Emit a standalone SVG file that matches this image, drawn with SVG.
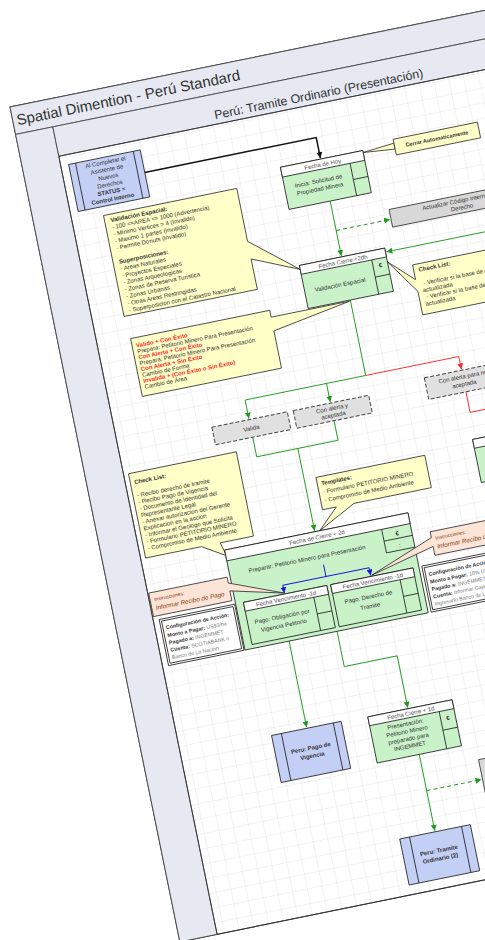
<svg xmlns="http://www.w3.org/2000/svg" width="485" height="940" viewBox="0 0 485 940">
<defs>
<pattern id="grid" x="0" y="0" width="15" height="15" patternUnits="userSpaceOnUse">
<path d="M15 0H0V15" fill="none" stroke="#d4d4d4" stroke-width="0.6"/>
</pattern>
<marker id="ag" viewBox="0 0 6 6" refX="6" refY="3" markerWidth="6" markerHeight="6" markerUnits="userSpaceOnUse" orient="auto"><path d="M0,0L6,3L0,6z" fill="#1f9a1f"/></marker>
<marker id="ar" viewBox="0 0 6 6" refX="6" refY="3" markerWidth="6" markerHeight="6" markerUnits="userSpaceOnUse" orient="auto"><path d="M0,0L6,3L0,6z" fill="#ff2a2a"/></marker>
<marker id="ab" viewBox="0 0 6 6" refX="6" refY="3" markerWidth="6" markerHeight="6" markerUnits="userSpaceOnUse" orient="auto"><path d="M0,0L6,3L0,6z" fill="#1a1ae0"/></marker>
<marker id="ak" viewBox="0 0 6 6" refX="6" refY="3" markerWidth="6" markerHeight="6" markerUnits="userSpaceOnUse" orient="auto"><path d="M0,0L6,3L0,6z" fill="#111"/></marker>
</defs>
<style>
text{font-family:"Liberation Sans",Arial,sans-serif;fill:#333;font-size:6px}
.b{font-weight:bold}
.c{text-anchor:middle}
.hdr{fill:#e6e9f1;stroke:#444;stroke-width:0.8}
.task{fill:#c9f2c9;stroke:#222;stroke-width:0.8}
.wh{fill:#fff;stroke:#222;stroke-width:0.8}
.ln{fill:none;stroke:#222;stroke-width:0.8}
.blue{fill:#c4cff5;stroke:#222;stroke-width:0.8}
.note{fill:#ffffc8;stroke:#333;stroke-width:0.8}
.peach{fill:#fce4d6;stroke:#333;stroke-width:0.8}
.dash{fill:#e0e0e0;stroke:#444;stroke-width:1;stroke-dasharray:4 2}
.gray{fill:#d8d8d8;stroke:#333;stroke-width:0.8}
.g{fill:none;stroke:#1f9a1f;stroke-width:0.9}
.gd{fill:none;stroke:#1f9a1f;stroke-width:1;stroke-dasharray:4 3}
.r{fill:none;stroke:#ff2a2a;stroke-width:0.9}
.bl{fill:none;stroke:#1a1ae0;stroke-width:1}
.k{fill:none;stroke:#111;stroke-width:1.5}
.red{fill:#ff2a2a;font-weight:bold}
.hd{fill:#555}
.br{fill:#8a3a10}
.lb{font-weight:bold;fill:#333}
.vl{fill:#777}
</style>
<g transform="translate(10,107) rotate(-11.5)">
<g id="page">
<rect x="0" y="0" width="520" height="852" fill="#fff" stroke="#333" stroke-width="1"/>
<rect class="hdr" x="0" y="0" width="520" height="28"/>
<text x="4" y="19.5" style="font-size:15px">Spatial Dimention - Perú Standard</text>
<rect class="hdr" x="0" y="28" width="38" height="824"/>
<rect class="hdr" x="38" y="28" width="482" height="30"/>
<text class="c" x="305" y="53" style="font-size:12.4px">Perú: Tramite Ordinario (Presentación)</text>
<rect x="38" y="58" width="482" height="794" fill="url(#grid)" stroke="#333" stroke-width="0.8"/>
</g>

<g id="connectors">
<path class="k" d="M119,91H294V112" marker-end="url(#ak)"/>
<path class="g" d="M295,156V212" marker-end="url(#ag)"/>
<path class="gd" d="M295,186H350" marker-end="url(#ag)"/>
<path class="g" d="M520,217H340" marker-end="url(#ag)"/>
<path class="g" d="M295,257V334H172V353" marker-end="url(#ag)"/>
<path class="g" d="M255,334V353" marker-end="url(#ag)"/>
<path class="r" d="M295,334H390V347" marker-end="url(#ar)"/>
<path class="r" d="M390,370V391H520"/>
<path class="g" d="M172,372V392H255V372"/>
<path class="g" d="M214,392V476" marker-end="url(#ag)"/>
<path class="g" d="M167,575V667" marker-end="url(#ag)"/>
<path class="g" d="M216,579V615H270V668" marker-end="url(#ag)"/>
<path class="g" d="M272,716V794" marker-end="url(#ag)"/>
<path class="gd" d="M272,753H328" marker-end="url(#ag)"/>
</g>

<g id="n-completar">
<rect class="blue" x="46" y="68" width="73" height="48"/>
<path class="ln" d="M53,68V116M112,68V116"/>
<text class="c" x="82.5" y="75">Al Completar el</text>
<text class="c" x="82.5" y="82.5">Asistente de</text>
<text class="c" x="82.5" y="90">Nuevos</text>
<text class="c" x="82.5" y="97.5">Derechos</text>
<text class="c b" x="82.5" y="105">STATUS =</text>
<text class="c b" x="82.5" y="112.5">Control Interno</text>
</g>

<g id="n-hoy">
<rect class="task" x="253" y="113" width="84" height="43"/>
<rect class="wh" x="253" y="113" width="84" height="10"/>
<path class="ln" d="M322,123V156M322,139.5H337"/>
<text class="c hd" x="295" y="120.5">Fecha de Hoy</text>
<text class="c" x="287.5" y="136">Inicia: Solicitud de</text>
<text class="c" x="287.5" y="144">Propiedad Minera</text>
</g>

<g id="n-cerrar">
<path class="note" d="M337,115L369,112V118Z"/>
<rect class="note" x="369" y="108" width="86" height="16"/>
<text class="c b" x="412" y="118" style="font-size:5.5px">Cerrar Automaticamente</text>
</g>

<g id="n-actualizar">
<rect class="gray" x="351" y="176" width="144" height="18"/>
<text class="c" x="423" y="183.5">Actualizar Código interno con</text>
<text class="c" x="423" y="190.5">Derecho</text>
</g>

<g id="n-validacion">
<rect class="task" x="252" y="213" width="87" height="44"/>
<rect class="wh" x="252" y="213" width="87" height="9"/>
<path class="ln" d="M324,222V257M324,239.5H339"/>
<text class="c hd" x="295.5" y="219.8">Fecha Cierre +2dh</text>
<text class="c b" x="331.5" y="231">€</text>
<text class="c" x="288" y="242">Validación Espacial</text>
</g>

<g id="n-note-validacion">
<path class="note" d="M70,125H206V179L252,217L206,197V228H70Z"/>
<text class="b" x="76" y="133">Validación Espacial:</text>
<text x="76" y="140.1">- 100 &lt;=AREA &lt;= 1000 (Advertencia)</text>
<text x="76" y="147.2">- Mínimo Vertices = 4 (Invalido)</text>
<text x="76" y="154.2">- Maximo 1 partes (Invalido)</text>
<text x="76" y="161.3">- Permite Donuts (Invalido)</text>
<text class="b" x="76" y="175.4">Superposiciones:</text>
<text x="76" y="182.5">- Areas Naturales</text>
<text x="76" y="189.6">- Proyectos Especiales</text>
<text x="76" y="196.6">- Zonas Arqueologicas</text>
<text x="76" y="203.7">- Zonas de Reserva Turistica</text>
<text x="76" y="210.8">- Zonas Urbanas</text>
<text x="76" y="217.9">- Otras Areas Restringidas</text>
<text x="76" y="225">- Superposicion con el Catastro Nacional</text>
</g>

<g id="n-checklist-right">
<path class="note" d="M363,235H520V286H363V262L339,227L363,250Z"/>
<text class="b" x="368" y="243">Check List:</text>
<text x="370" y="257">- Verificar si la base de Areas Restringidas esta</text>
<text x="368" y="264">actualizada</text>
<text x="370" y="271">- Verificar si la base de Catastro esta</text>
<text x="368" y="278">actualizada</text>
</g>

<g id="n-note-resultados">
<path class="note" d="M72,251H214V258L294,258L214,272V310H72Z"/>
<text class="red" x="76" y="261">Valido + Con Éxito</text>
<text x="76" y="267">Prepara: Petitorio Minero Para Presentación</text>
<text class="red" x="76" y="273">Con Alerta + Con Éxito</text>
<text x="76" y="279">Prepara: Petitorio Minero Para Presentación</text>
<text class="red" x="76" y="285">Con Alerta + Sin Éxito</text>
<text x="76" y="291">Cambio de Forma</text>
<text class="red" x="76" y="297">Invalida + (Con Éxito o Sin Éxito)</text>
<text x="76" y="303">Cambio de Área</text>
</g>

<g id="n-valida">
<rect class="dash" x="134" y="354" width="77" height="18"/>
<text class="c" x="172.5" y="365">Valida</text>
</g>
<g id="n-alerta-aceptada">
<rect class="dash" x="217" y="354" width="77" height="18"/>
<text class="c" x="255.5" y="361.5">Con alerta y</text>
<text class="c" x="255.5" y="368.5">aceptada</text>
</g>
<g id="n-alerta-no">
<rect class="dash" x="352" y="348" width="76" height="22"/>
<text class="c" x="390" y="356.5">Con alerta para no</text>
<text class="c" x="390" y="364">aceptada</text>
</g>
<g id="n-right-task">
<rect class="task" x="387" y="418" width="90" height="44"/>
<rect class="wh" x="387" y="418" width="90" height="9"/>
</g>

<g id="n-checklist-left">
<path class="note" d="M43,383H153V469H119L123,483L100,469H43Z"/>
<text class="b" x="47" y="394.5">Check List:</text>
<text x="47" y="408">- Recibo derecho de tramite</text>
<text x="47" y="414.7">- Recibo Pago de Vigencia</text>
<text x="47" y="421.5">- Documento de Identidad del</text>
<text x="47" y="428.2">Representante Legal</text>
<text x="47" y="435">- Anexar autorizacion del Gerente</text>
<text x="47" y="441.7">Explicacion en la accion</text>
<text x="47" y="448.5">- Informar el Geologo que Solicita</text>
<text x="47" y="455.2">- Formulario PETITORIO MINERO</text>
<text x="47" y="462">- Compromiso de Medio Ambiente</text>
</g>

<g id="n-templates">
<path class="note" d="M226,424H337V457H258L219,477L240,457H226Z"/>
<text class="b" x="230" y="433">Templates:</text>
<text x="230" y="441.5">- Formulario PETITORIO MINERO</text>
<text x="230" y="450">- Compromiso de Medio Ambiente</text>
</g>

<g id="n-preparar">
<rect class="task" x="122" y="477" width="187" height="102"/>
<rect class="wh" x="122" y="477" width="187" height="11"/>
<path class="ln" d="M280,488V512H309M280,500H309"/>
<text class="c hd" x="215" y="485">Fecha de Cierre + 2d</text>
<text class="c b" x="294.5" y="497">€</text>
<text class="c" x="294.5" y="509">:</text>
<text class="c" x="201" y="504">Preparar: Petitorio Minero para Presentación</text>
</g>

<g id="connectors-blue">
<path class="bl" d="M216,511V523"/>
<path class="bl" d="M172,523H260"/>
<path class="bl" d="M172,523V531" marker-end="url(#ab)"/>
<path class="bl" d="M260,523V531" marker-end="url(#ab)"/>
</g>

<g id="n-pago-vigencia-task">
<rect class="task" x="130" y="532" width="85" height="43"/>
<rect class="wh" x="130" y="532" width="85" height="9"/>
<path class="ln" d="M200,541V575M200,558H215"/>
<text class="c hd" x="172.5" y="538.8">Fecha Vencimiento -1d</text>
<text class="c" x="165" y="555.5">Pago: Obligación por</text>
<text class="c" x="165" y="564.5">Vigencia Petitorio</text>
</g>
<g id="n-pago-tramite-task">
<rect class="task" x="219" y="532" width="84" height="43"/>
<rect class="wh" x="219" y="532" width="84" height="9"/>
<path class="ln" d="M288,541V575M288,558H303"/>
<text class="c hd" x="261" y="538.8">Fecha Vencimiento -1d</text>
<text class="c" x="253.5" y="553.5">Pago: Derecho de</text>
<text class="c" x="253.5" y="563">Tramite</text>
</g>

<g id="n-instr-left">
<path class="peach" d="M39,504H119V510L172,531L119,518V528H39Z"/>
<text class="br" x="43" y="513" style="font-size:5px">Instrucciones:</text>
<text class="br" x="43" y="522" style="font-size:6.3px;font-style:italic">Informar Recibo de Pago</text>
</g>
<g id="n-instr-right">
<path class="peach" d="M327,500H420V524H327V515L261,531L327,506Z"/>
<text class="br" x="331" y="509" style="font-size:5px">Instrucciones:</text>
<text class="br" x="331" y="518" style="font-size:6.3px;font-style:italic">Informar Recibo de Pago</text>
</g>

<g id="n-config-left">
<rect class="wh" x="44" y="532" width="77" height="47"/>
<rect class="ln" x="46" y="534" width="73" height="43"/>
<text class="lb" x="49" y="543" style="font-size:5.3px">Configuración de Acción:</text>
<text x="49" y="551" style="font-size:5.3px"><tspan class="lb">Monto a Pagar: </tspan><tspan class="vl">US$3/ha</tspan></text>
<text x="49" y="558.5" style="font-size:5.3px"><tspan class="lb">Pagado a: </tspan><tspan class="vl">INGEMMET</tspan></text>
<text x="49" y="566" style="font-size:5.3px"><tspan class="lb">Cuenta: </tspan><tspan class="vl">SCOTIABANK o</tspan></text>
<text class="vl" x="49" y="573.5" style="font-size:5.3px">Banco de La Nación</text>
</g>
<g id="n-config-right">
<rect class="wh" x="312" y="532" width="100" height="47"/>
<rect class="ln" x="314" y="534" width="96" height="43"/>
<text class="lb" x="317" y="543" style="font-size:5.3px">Configuración de Acción:</text>
<text x="317" y="551" style="font-size:5.3px"><tspan class="lb">Monto a Pagar: </tspan><tspan class="vl">10% UIT</tspan></text>
<text x="317" y="558.5" style="font-size:5.3px"><tspan class="lb">Pagado a: </tspan><tspan class="vl">INGEMMET</tspan></text>
<text x="317" y="566" style="font-size:5.3px"><tspan class="lb">Cuenta: </tspan><tspan class="vl">Informar Caja</tspan></text>
<text class="vl" x="317" y="573.5" style="font-size:5.3px">Ingresarlo Banco de La Nación</text>
</g>

<g id="n-pago-vigencia">
<rect class="blue" x="131" y="668" width="71" height="48"/>
<path class="ln" d="M141,668V716M194,668V716"/>
<text class="c b" x="167" y="690">Peru: Pago de</text>
<text class="c b" x="167" y="698">Vigencia</text>
</g>

<g id="n-presentacion">
<rect class="task" x="229" y="669" width="86" height="47"/>
<rect class="wh" x="229" y="669" width="86" height="9"/>
<path class="ln" d="M300,678V716M300,697H315"/>
<text class="c hd" x="272" y="675.8">Fecha Cierre + 1d</text>
<text class="c b" x="307.5" y="688">€</text>
<text class="c" x="264.5" y="685.5">Presentación:</text>
<text class="c" x="264.5" y="693">Petitorio Minero</text>
<text class="c" x="264.5" y="700.5">preparado para</text>
<text class="c" x="264.5" y="708">INGEMMET</text>
</g>

<g id="n-gray-right">
<rect class="gray" x="329" y="733" width="120" height="38"/>
</g>

<g id="n-tramite2">
<rect class="blue" x="236" y="795" width="72" height="47"/>
<path class="ln" d="M246,795V842M299,795V842"/>
<text class="c b" x="272" y="816">Peru: Tramite</text>
<text class="c b" x="272" y="824">Ordinario (2)</text>
</g>
</g>
</svg>
